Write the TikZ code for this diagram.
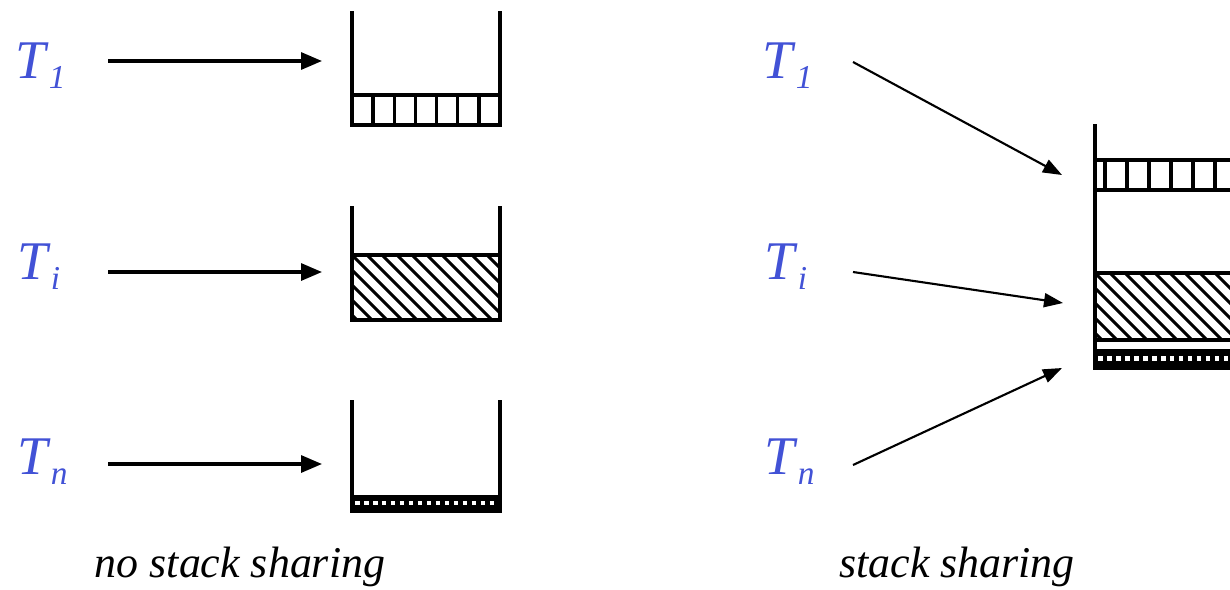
\documentclass[tikz,border=0pt]{standalone}
\usepackage{fontspec}
\setmainfont{Liberation Serif}
\usetikzlibrary{arrows.meta}
\definecolor{tblue}{RGB}{66,82,214}
\newcommand{\tsub}[1]{\textit{T}\raisebox{-0.2em}{\fontsize{19pt}{19pt}\selectfont\textit{#1}}}

\begin{document}
\begin{tikzpicture}[x=0.02cm, y=-0.02cm,
  lab/.style={inner sep=0pt, anchor=base west, text=tblue,
              font=\fontsize{31pt}{31pt}\selectfont},
  captext/.style={inner sep=0pt, anchor=base,
              font=\fontsize{25pt}{25pt}\selectfont\itshape},
  wall/.style={line width=2pt},
  hatch/.style={line width=1.7pt},
  bigarrow/.style={-{Triangle[length=0.42cm, width=0.34cm]}, line width=1.8pt},
  thinarrow/.style={-{Triangle[length=0.38cm, width=0.28cm]}, line width=1.2pt},
  dotband/.style={white, line width=0.09cm, dash pattern=on 0.09cm off 0.09cm}
]
\useasboundingbox (0,0) rectangle (1230,589);

% no stack sharing
\node[lab] (t1l) at (15,78)  {\tsub{1}};
\node[lab] (til) at (17,279) {\tsub{i}};
\node[lab] (tnl) at (17,474) {\tsub{n}};

\coordinate (a1) at (108,61);  \coordinate (s1) at (322,61);
\coordinate (ai) at (108,272); \coordinate (si) at (322,272);
\coordinate (an) at (108,464); \coordinate (sn) at (322,464);

\draw[bigarrow] (a1) -- (s1);
\draw[bigarrow] (ai) -- (si);
\draw[bigarrow] (an) -- (sn);

% stack 1
\draw[wall] (352,11) -- (352,125) -- (500,125) -- (500,11);
\draw[wall] (352,95) -- (500,95);
\foreach \k in {1,...,6}
  \draw[wall] (352+\k*21.14,95) -- (352+\k*21.14,125);

% stack i
\begin{scope}
  \clip (352,255) rectangle (500,320);
  \foreach \d in {-75,-60,...,160}
    \draw[hatch] (352+\d,255) -- ++(70,70);
\end{scope}
\draw[wall] (352,206) -- (352,320) -- (500,320) -- (500,206);
\draw[wall] (352,255) -- (500,255);

% stack n
\fill (352,497) rectangle (500,511);
\draw[dotband] (355,503) -- (500,503);
\draw[wall] (352,400) -- (352,511) -- (500,511) -- (500,400);
\draw[wall] (352,497) -- (500,497);

\node[captext] (cap1) at (240,577) {no stack sharing};

% stack sharing
\node[lab] (t1r) at (762,78)  {\tsub{1}};
\node[lab] (tir) at (764,279) {\tsub{i}};
\node[lab] (tnr) at (764,474) {\tsub{n}};

\coordinate (b1) at (853,62);  \coordinate (r1) at (1062,175);
\coordinate (bi) at (853,272); \coordinate (ri) at (1063,303);
\coordinate (bn) at (853,465); \coordinate (rn) at (1062,368);

\draw[thinarrow] (b1) -- (r1);
\draw[thinarrow] (bi) -- (ri);
\draw[thinarrow] (bn) -- (rn);

\begin{scope}
  \clip (1095,273) rectangle (1230,340);
  \foreach \d in {-75,-60,...,160}
    \draw[hatch] (1095+\d,273) -- ++(70,70);
\end{scope}
\fill (1095,351) rectangle (1230,368);
\draw[dotband] (1098,358.5) -- (1230,358.5);
\draw[wall] (1095,124) -- (1095,368) -- (1230,368);
\draw[wall] (1095,160) -- (1230,160);
\draw[wall] (1095,190) -- (1230,190);
\foreach \x in {1105,1127,...,1230}
  \draw[wall] (\x,160) -- (\x,190);
\draw[wall] (1095,273) -- (1230,273);
\draw[wall] (1095,340) -- (1230,340);
\draw[wall] (1095,351) -- (1230,351);

\node[captext] (cap2) at (957,577) {stack sharing};
\end{tikzpicture}
\end{document}
